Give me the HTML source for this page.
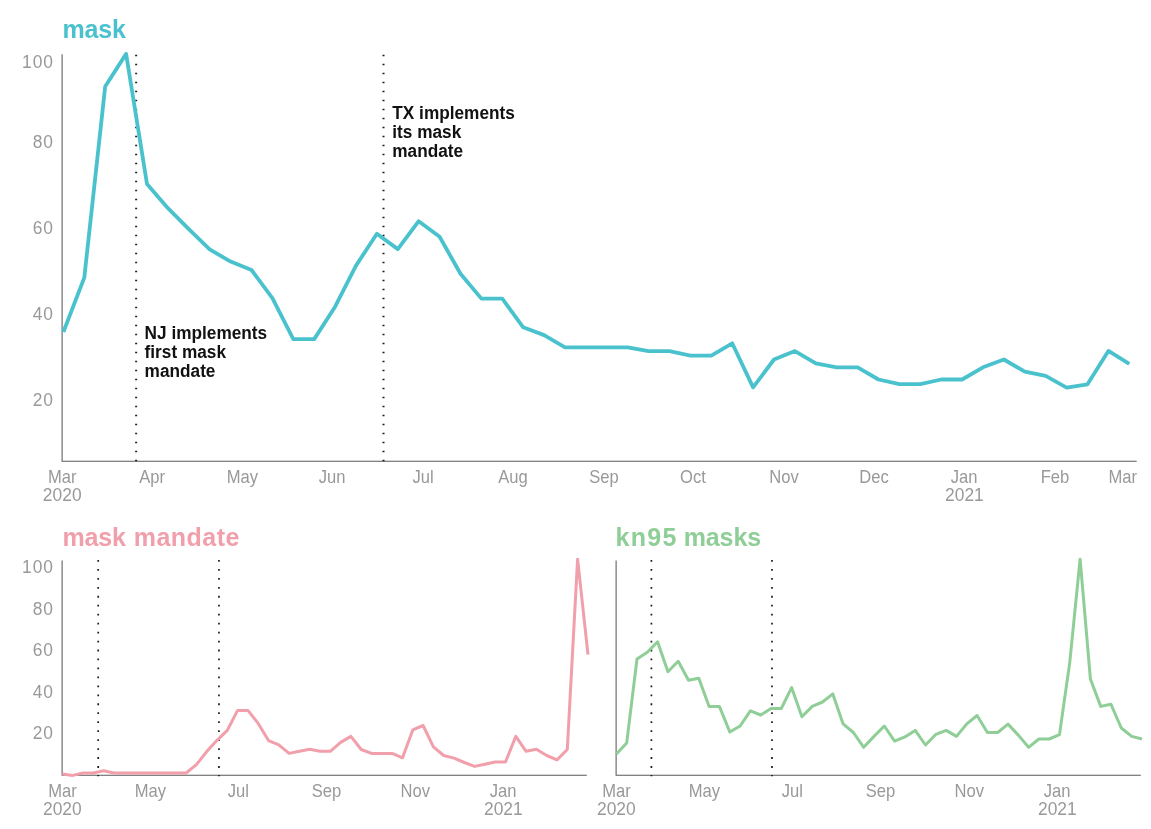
<!DOCTYPE html>
<html lang="en"><head><meta charset="utf-8"><title>mask search trends</title>
<style>
html,body{margin:0;padding:0;background:#fff;}
body{width:1151px;height:829px;overflow:hidden;}
svg{display:block;}
text{font-family:"Liberation Sans",sans-serif;}
.ttl{font-weight:700;font-size:25px;}
.lab{font-size:18.6px;fill:#999;}
.num{font-size:18.3px;fill:#999;letter-spacing:0.9px;}
.yr{font-size:18.3px;fill:#999;}
.ann{font-weight:700;font-size:18.2px;fill:#111;}
.ax{stroke:#5a5a5a;stroke-width:1.05;fill:none;}
.dot{stroke:#1c1c1c;fill:none;}
.ln{fill:none;stroke-linejoin:round;stroke-linecap:butt;}
</style></head><body>
<svg width="1151" height="829" viewBox="0 0 1151 829">
<rect width="1151" height="829" fill="#fff"/>
<g id="top">
<text class="ttl" y="38" fill="#4ac2ce"><tspan x="62.5" letter-spacing="-0.2">mask</tspan></text>
<path class="ax" d="M62.1,54.3V461.2H1136.7"/>
<text class="num" transform="translate(53.7,67.7) scale(0.951,1)" text-anchor="end">100</text>
<text class="num" transform="translate(53.7,147.7) scale(0.951,1)" text-anchor="end">80</text>
<text class="num" transform="translate(53.7,233.5) scale(0.951,1)" text-anchor="end">60</text>
<text class="num" transform="translate(53.7,319.5) scale(0.951,1)" text-anchor="end">40</text>
<text class="num" transform="translate(53.7,405.5) scale(0.951,1)" text-anchor="end">20</text>
<line class="dot" x1="136.15" x2="136.15" y1="54.75" y2="461.4" stroke-width="2" stroke-dasharray="1.5 7.5"/>
<line class="dot" x1="383.5" x2="383.5" y1="54.75" y2="461.4" stroke-width="2" stroke-dasharray="1.5 7.5"/>
<polyline class="ln" stroke="#4ac2ce" stroke-width="3.8" points="63.4,332.0 84.3,277.6 105.2,86.5 126.1,53.9 147.0,184.0 167.9,208.2 188.8,229.1 209.7,249.4 230.6,261.6 251.5,270.0 272.4,298.1 293.3,339.1 314.2,339.1 335.1,306.7 356.0,265.6 376.9,233.8 397.8,249.1 418.7,221.2 439.6,236.8 460.5,273.8 481.4,298.6 502.3,298.6 523.2,327.3 544.1,335.1 565.0,347.3 585.9,347.3 606.8,347.3 627.7,347.3 648.6,351.2 669.5,351.2 690.4,355.6 711.3,355.6 732.2,343.3 753.1,387.4 774.0,359.5 794.9,351.1 815.8,363.4 836.7,367.3 857.6,367.3 878.5,379.5 899.4,384.2 920.3,384.2 941.2,379.5 962.1,379.5 983.0,367.3 1003.9,359.5 1024.8,371.7 1045.7,375.9 1066.6,387.6 1087.5,384.3 1108.4,350.9 1129.3,363.9"/>
<text class="ann" transform="translate(144.6,338.6) scale(0.947,1)">NJ implements</text>
<text class="ann" transform="translate(144.6,357.8) scale(0.947,1)">first mask</text>
<text class="ann" transform="translate(144.6,377.0) scale(0.947,1)">mandate</text>
<text class="ann" transform="translate(392.3,118.9) scale(0.947,1)">TX implements</text>
<text class="ann" transform="translate(392.3,138.1) scale(0.947,1)">its mask</text>
<text class="ann" transform="translate(392.3,157.3) scale(0.947,1)">mandate</text>
<text class="lab" transform="translate(62.3,482.8) scale(0.892,1)" text-anchor="middle">Mar</text>
<text class="lab" transform="translate(152.2,482.8) scale(0.892,1)" text-anchor="middle">Apr</text>
<text class="lab" transform="translate(242.4,482.8) scale(0.892,1)" text-anchor="middle">May</text>
<text class="lab" transform="translate(332.0,482.8) scale(0.892,1)" text-anchor="middle">Jun</text>
<text class="lab" transform="translate(423.0,482.8) scale(0.892,1)" text-anchor="middle">Jul</text>
<text class="lab" transform="translate(513.0,482.8) scale(0.892,1)" text-anchor="middle">Aug</text>
<text class="lab" transform="translate(604.0,482.8) scale(0.892,1)" text-anchor="middle">Sep</text>
<text class="lab" transform="translate(693.0,482.8) scale(0.892,1)" text-anchor="middle">Oct</text>
<text class="lab" transform="translate(784.0,482.8) scale(0.892,1)" text-anchor="middle">Nov</text>
<text class="lab" transform="translate(874.0,482.8) scale(0.892,1)" text-anchor="middle">Dec</text>
<text class="lab" transform="translate(964.0,482.8) scale(0.892,1)" text-anchor="middle">Jan</text>
<text class="lab" transform="translate(1055.0,482.8) scale(0.892,1)" text-anchor="middle">Feb</text>
<text class="lab" transform="translate(1137.0,482.8) scale(0.892,1)" text-anchor="end">Mar</text>
<text class="yr" transform="translate(62.2,500.9) scale(0.951,1)" text-anchor="middle">2020</text>
<text class="yr" transform="translate(964.4,500.9) scale(0.951,1)" text-anchor="middle">2021</text>
</g>
<g id="mandate">
<text class="ttl" y="545.8" fill="#f19fab"><tspan x="62.5" letter-spacing="-0.2">mask</tspan> <tspan x="133.7" letter-spacing="0.48">mandate</tspan></text>
<path class="ax" d="M62.1,560.4V775.2H586.8"/>
<text class="num" transform="translate(53.7,573.0) scale(0.951,1)" text-anchor="end">100</text>
<text class="num" transform="translate(53.7,614.5) scale(0.951,1)" text-anchor="end">80</text>
<text class="num" transform="translate(53.7,656.0) scale(0.951,1)" text-anchor="end">60</text>
<text class="num" transform="translate(53.7,697.5) scale(0.951,1)" text-anchor="end">40</text>
<text class="num" transform="translate(53.7,739.0) scale(0.951,1)" text-anchor="end">20</text>
<line class="dot" x1="98.2" x2="98.2" y1="560.0" y2="776.2" stroke="#2a2a2a" stroke-width="1.7" stroke-dasharray="1.8 7.16"/>
<line class="dot" x1="218.95" x2="218.95" y1="560.0" y2="776.2" stroke="#2a2a2a" stroke-width="1.7" stroke-dasharray="1.8 7.16"/>
<polyline class="ln" stroke="#f19fab" stroke-width="3" points="62.4,774.1 72.7,775.4 83.0,773.0 93.3,773.0 103.6,770.8 113.9,773.0 124.2,773.0 134.5,773.0 144.8,773.0 155.1,773.0 165.4,773.0 175.8,773.0 186.1,773.0 196.4,764.6 206.7,751.6 217.0,740.3 227.3,730.4 237.6,710.4 247.9,710.4 258.2,723.4 268.5,740.6 278.8,744.8 289.1,753.4 299.4,751.3 309.7,749.2 320.0,751.3 330.3,751.3 340.6,742.4 350.9,736.4 361.2,749.5 371.5,753.4 381.9,753.4 392.2,753.4 402.5,757.8 412.8,729.9 423.1,725.5 433.4,746.9 443.7,755.5 454.0,758.1 464.3,762.5 474.6,766.4 484.9,764.3 495.2,762.0 505.5,762.0 515.8,736.4 526.1,751.3 536.4,749.2 546.7,755.5 557.0,759.9 567.3,749.5 577.6,559.2 588.0,654.6"/>
<text class="lab" transform="translate(62.4,796.8) scale(0.892,1)" text-anchor="middle">Mar</text>
<text class="lab" transform="translate(150.4,796.8) scale(0.892,1)" text-anchor="middle">May</text>
<text class="lab" transform="translate(238.4,796.8) scale(0.892,1)" text-anchor="middle">Jul</text>
<text class="lab" transform="translate(326.5,796.8) scale(0.892,1)" text-anchor="middle">Sep</text>
<text class="lab" transform="translate(415.3,796.8) scale(0.892,1)" text-anchor="middle">Nov</text>
<text class="lab" transform="translate(503.1,796.8) scale(0.892,1)" text-anchor="middle">Jan</text>
<text class="yr" transform="translate(62.3,814.8) scale(0.951,1)" text-anchor="middle">2020</text>
<text class="yr" transform="translate(503.3,814.8) scale(0.951,1)" text-anchor="middle">2021</text>
</g>
<g id="kn95">
<text class="ttl" y="545.8" fill="#8fce96"><tspan x="615.5" letter-spacing="1.3">kn95</tspan> <tspan x="683.7" letter-spacing="-0.1">masks</tspan></text>
<path class="ax" d="M616.1,560.4V775.2H1140.8"/>
<line class="dot" x1="651.4" x2="651.4" y1="560.0" y2="776.2" stroke="#2a2a2a" stroke-width="1.7" stroke-dasharray="1.8 7.16"/>
<line class="dot" x1="771.95" x2="771.95" y1="560.0" y2="776.2" stroke="#2a2a2a" stroke-width="1.7" stroke-dasharray="1.8 7.16"/>
<polyline class="ln" stroke="#8fce96" stroke-width="3" points="616.4,754.1 626.7,742.9 637.0,659.0 647.3,652.2 657.6,641.8 667.9,671.7 678.2,661.3 688.5,680.3 698.8,678.3 709.1,706.4 719.4,706.4 729.8,732.0 740.1,726.0 750.4,710.8 760.7,715.0 771.0,708.5 781.3,708.5 791.6,687.6 801.9,716.8 812.2,706.4 822.5,702.0 832.8,693.9 843.1,723.9 853.4,732.5 863.7,747.3 874.0,736.4 884.3,726.0 894.6,741.1 904.9,736.9 915.2,730.4 925.5,745.0 935.9,734.3 946.2,730.4 956.5,736.4 966.8,723.9 977.1,715.5 987.4,732.5 997.7,732.5 1008.0,724.1 1018.3,735.1 1028.6,747.3 1038.9,739.0 1049.2,739.0 1059.5,734.6 1069.8,662.1 1080.1,559.2 1090.4,679.0 1100.7,706.4 1111.0,704.3 1121.3,728.0 1131.7,736.4 1142.0,739.0"/>
<text class="lab" transform="translate(616.4,796.8) scale(0.892,1)" text-anchor="middle">Mar</text>
<text class="lab" transform="translate(704.4,796.8) scale(0.892,1)" text-anchor="middle">May</text>
<text class="lab" transform="translate(792.4,796.8) scale(0.892,1)" text-anchor="middle">Jul</text>
<text class="lab" transform="translate(880.5,796.8) scale(0.892,1)" text-anchor="middle">Sep</text>
<text class="lab" transform="translate(969.3,796.8) scale(0.892,1)" text-anchor="middle">Nov</text>
<text class="lab" transform="translate(1057.1,796.8) scale(0.892,1)" text-anchor="middle">Jan</text>
<text class="yr" transform="translate(616.3,814.8) scale(0.951,1)" text-anchor="middle">2020</text>
<text class="yr" transform="translate(1057.3,814.8) scale(0.951,1)" text-anchor="middle">2021</text>
</g>
</svg></body></html>
